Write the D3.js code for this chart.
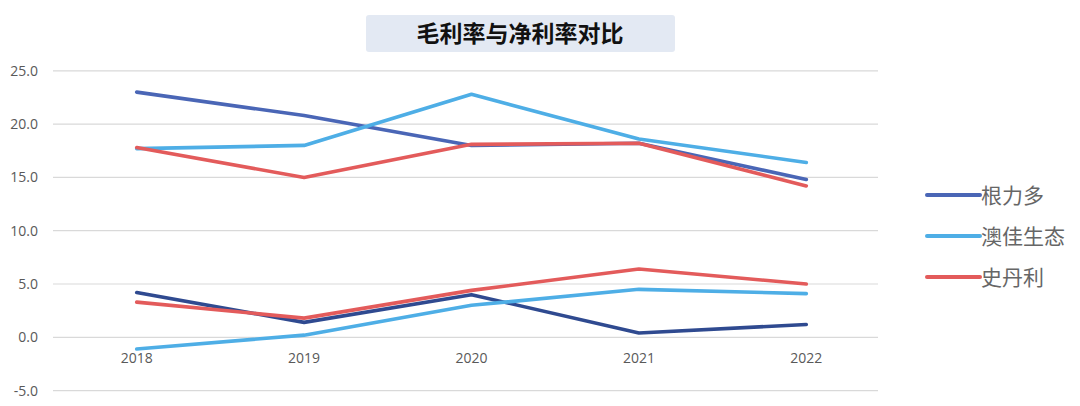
<!DOCTYPE html>
<html><head><meta charset="utf-8">
<script src="https://cdn.jsdelivr.net/npm/d3@7"></script>
<style>body{margin:0;background:#fff;}svg{display:block;font-family:"Noto Sans CJK SC","Noto Sans",sans-serif;}</style>
</head><body>
<svg id="c" width="1080" height="406"></svg>
<script>
const title = "毛利率与净利率对比";
const years = ["2018","2019","2020","2021","2022"];
const yTicks = [-5,0,5,10,15,20,25];
const companies = ["根力多","澳佳生态","史丹利"];
const grossGenliduo = [23.0, 20.8, 18.0, 18.2, 14.8];
const grossAojia   = [17.7, 18.0, 22.8, 18.6, 16.4];
const grossStanley = [17.8, 15.0, 18.1, 18.2, 14.2];
const netGenliduo  = [4.2, 1.4, 4.0, 0.4, 1.2];
const netAojia     = [-1.1, 0.2, 3.0, 4.5, 4.1];
const netStanley   = [3.3, 1.8, 4.4, 6.4, 5.0];

const colors = {"根力多":"#4a66b6","澳佳生态":"#4eaee6","史丹利":"#e35b5b"};
const netDark = "#2f4a90";

const series = [
  {name:"根力多", kind:"gross", values:grossGenliduo, color:colors["根力多"]},
  {name:"澳佳生态", kind:"gross", values:grossAojia, color:colors["澳佳生态"]},
  {name:"史丹利", kind:"gross", values:grossStanley, color:colors["史丹利"]},
  {name:"根力多", kind:"net", values:netGenliduo, color:netDark},
  {name:"澳佳生态", kind:"net", values:netAojia, color:colors["澳佳生态"]},
  {name:"史丹利", kind:"net", values:netStanley, color:colors["史丹利"]}
];

const svg = d3.select("#c");
const gridX0 = 53, gridX1 = 878;
const x = d3.scaleBand().domain(years).range([53, 890]);
const y = d3.scaleLinear().domain([-5,25]).range([390.6, 70.8]);

// title box
svg.append("rect").attr("x",366).attr("y",15).attr("width",309).attr("height",37)
  .attr("rx",3).attr("fill","#e3e9f3");
svg.append("text").attr("x",520).attr("y",42).attr("text-anchor","middle")
  .attr("font-size",23).attr("font-weight","bold").attr("fill","#111").text(title);

// grid
svg.append("g").selectAll("line").data(yTicks).join("line")
  .attr("x1",gridX0).attr("x2",gridX1)
  .attr("y1",d=>y(d)).attr("y2",d=>y(d))
  .attr("stroke","#d9d9d9").attr("stroke-width",1.2);

// y labels
svg.append("g").selectAll("text").data(yTicks).join("text")
  .attr("x",38).attr("y",d=>y(d)+5).attr("text-anchor","end")
  .attr("font-size",14).attr("fill","#595959")
  .attr("font-family","'Open Sans','Noto Sans',sans-serif")
  .text(d=>d.toFixed(1));

// x labels
svg.append("g").selectAll("text").data(years).join("text")
  .attr("x",d=>x(d)+x.bandwidth()/2).attr("y",y(0)+26).attr("text-anchor","middle")
  .attr("font-size",14).attr("fill","#595959")
  .attr("font-family","'Open Sans','Noto Sans',sans-serif")
  .text(d=>d);

const line = d3.line().x((d,i)=>x(years[i])+x.bandwidth()/2).y(d=>y(d));
svg.append("g").selectAll("path").data(series).join("path")
  .attr("d",d=>line(d.values)).attr("fill","none")
  .attr("stroke",d=>d.color).attr("stroke-width",3.6)
  .attr("stroke-linejoin","round").attr("stroke-linecap","round");

// legend
const lg = svg.append("g").selectAll("g").data(companies).join("g")
  .attr("transform",(d,i)=>`translate(927,${195+i*41})`);
lg.append("line").attr("x1",0).attr("x2",53).attr("y1",0).attr("y2",0)
  .attr("stroke",d=>colors[d]).attr("stroke-width",4).attr("stroke-linecap","round");
lg.append("text").attr("x",54).attr("y",7.5).attr("font-size",21).attr("fill","#666").text(d=>d);
</script>
</body></html>
